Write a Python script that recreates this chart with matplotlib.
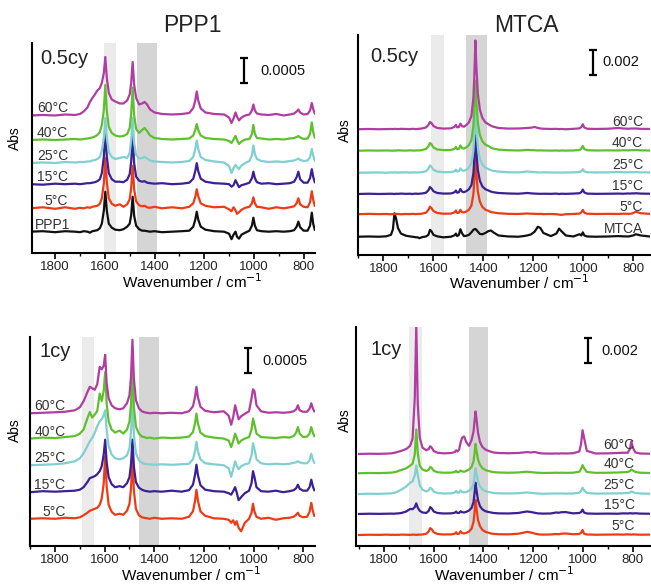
import numpy as np
import matplotlib
matplotlib.use('Agg')
import matplotlib.pyplot as plt
from matplotlib.ticker import MultipleLocator

plt.rcParams['font.family'] = ['Liberation Sans', 'DejaVu Sans']

# ---- data (absorbance in units of 1e-3, relative to each trace's baseline)
TEMPS = ['5°C', '15°C', '25°C', '40°C', '60°C']

WN_PPP1 = [1900, 1850, 1800, 1760, 1720, 1700, 1685, 1670, 1660, 1650,
           1640, 1630, 1620, 1612, 1604, 1598, 1592, 1584, 1572, 1558,
           1540, 1525, 1510, 1500, 1494, 1488, 1482, 1474, 1462, 1450,
           1440, 1430, 1418, 1400, 1370, 1330, 1290, 1260, 1244, 1236,
           1230, 1224, 1214, 1195, 1160, 1120, 1100, 1090, 1082, 1074,
           1068, 1060, 1050, 1035, 1018, 1008, 1002, 996, 988, 970,
           940, 910, 880, 855, 838, 828, 821, 814, 800, 784,
           774, 767, 761, 755]

# PPP1, 0.5 cycle
PPP1_REF = [0.00, 0.01, -0.01, 0.01, 0.00, -0.01, 0.01, 0.00, -0.02, 0.01,
            0.02, 0.03, 0.07, 0.16, 0.42, 0.80, 0.42, 0.16, 0.08, 0.04,
            0.03, 0.05, 0.10, 0.16, 0.33, 0.70, 0.32, 0.12, 0.05, 0.02,
            0.02, 0.01, 0.00, 0.01, -0.01, 0.00, 0.01, 0.02, 0.10, 0.24,
            0.40, 0.24, 0.10, 0.04, 0.01, 0.00, -0.04, -0.15, -0.06, 0.00,
            -0.10, -0.14, -0.06, -0.02, 0.02, 0.12, 0.28, 0.12, 0.03, 0.01,
            0.00, 0.01, 0.00, 0.01, 0.03, 0.10, 0.20, 0.09, 0.02, 0.02,
            0.12, 0.38, 0.15, 0.04]
PPP1_05_5C = [0.00, 0.02, -0.01, 0.02, -0.01, 0.01, 0.00, 0.02, 0.01, 0.03,
              0.04, 0.05, 0.09, 0.20, 0.50, 1.00, 0.52, 0.20, 0.09, 0.05,
              0.08, 0.03, 0.08, 0.18, 0.40, 0.85, 0.38, 0.14, 0.06, 0.04,
              0.05, 0.02, 0.01, 0.03, 0.00, 0.02, 0.00, 0.03, 0.10, 0.23,
              0.38, 0.24, 0.10, 0.05, 0.02, 0.03, -0.02, -0.06, 0.02, -0.04,
              -0.11, -0.08, -0.03, 0.01, 0.03, 0.10, 0.22, 0.10, 0.03, 0.02,
              -0.01, 0.02, 0.00, 0.02, 0.04, 0.10, 0.20, 0.08, 0.03, 0.02,
              0.12, 0.34, 0.16, 0.05]
PPP1_05_15C = [0.00, -0.01, 0.01, 0.00, 0.01, 0.00, 0.01, 0.02, 0.02, 0.03,
               0.04, 0.06, 0.10, 0.22, 0.55, 1.05, 0.55, 0.22, 0.10, 0.05,
               0.05, 0.04, 0.09, 0.20, 0.45, 0.95, 0.42, 0.15, 0.07, 0.05,
               0.06, 0.03, 0.02, 0.01, 0.02, 0.00, 0.01, 0.03, 0.11, 0.26,
               0.42, 0.26, 0.11, 0.05, 0.02, 0.01, 0.00, -0.05, -0.02, 0.08,
               0.02, -0.06, -0.02, 0.00, 0.03, 0.12, 0.25, 0.12, 0.04, 0.01,
               0.02, 0.00, 0.01, 0.02, 0.05, 0.14, 0.25, 0.10, 0.03, 0.03,
               0.12, 0.30, 0.14, 0.04]
PPP1_05_25C = [0.00, 0.01, 0.00, 0.02, 0.01, 0.02, 0.02, 0.03, 0.03, 0.05,
               0.06, 0.08, 0.12, 0.25, 0.50, 0.90, 0.50, 0.22, 0.12, 0.08,
               0.10, 0.12, 0.10, 0.20, 0.45, 0.90, 0.40, 0.16, 0.09, 0.10,
               0.12, 0.09, 0.05, 0.03, 0.02, 0.01, 0.02, 0.04, 0.12, 0.28,
               0.45, 0.28, 0.12, 0.06, 0.03, 0.01, -0.06, -0.20, -0.10, -0.04,
               -0.08, -0.12, -0.05, 0.00, 0.04, 0.15, 0.35, 0.18, 0.08, 0.04,
               0.02, 0.03, 0.02, 0.04, 0.05, 0.07, 0.09, 0.06, 0.04, 0.05,
               0.12, 0.28, 0.14, 0.05]
PPP1_05_40C = [0.00, 0.01, 0.00, 0.01, 0.02, 0.01, 0.02, 0.03, 0.04, 0.05,
               0.07, 0.10, 0.16, 0.30, 0.60, 1.10, 0.58, 0.26, 0.14, 0.09,
               0.07, 0.08, 0.12, 0.24, 0.52, 1.05, 0.50, 0.22, 0.14, 0.20,
               0.24, 0.18, 0.09, 0.04, 0.02, 0.01, 0.02, 0.03, 0.09, 0.20,
               0.32, 0.20, 0.09, 0.04, 0.02, 0.01, -0.02, -0.06, 0.01, 0.08,
               0.00, -0.08, -0.03, 0.01, 0.02, 0.12, 0.30, 0.12, 0.04, 0.03,
               0.01, 0.02, 0.01, 0.03, 0.04, 0.06, 0.08, 0.05, 0.02, 0.03,
               0.12, 0.35, 0.15, 0.05]
PPP1_05_60C = [0.00, 0.01, 0.00, 0.02, 0.01, 0.03, 0.08, 0.16, 0.27, 0.35,
               0.42, 0.50, 0.55, 0.65, 0.85, 1.17, 0.75, 0.45, 0.32, 0.28,
               0.24, 0.24, 0.30, 0.42, 0.65, 1.07, 0.62, 0.35, 0.22, 0.24,
               0.27, 0.22, 0.12, 0.06, 0.03, 0.02, 0.03, 0.05, 0.15, 0.30,
               0.48, 0.30, 0.14, 0.06, 0.03, 0.02, -0.04, -0.15, -0.06, 0.06,
               -0.02, -0.10, -0.04, 0.00, 0.02, 0.10, 0.22, 0.10, 0.04, 0.02,
               0.01, 0.03, 0.00, 0.02, 0.04, 0.08, 0.12, 0.06, 0.02, 0.03,
               0.10, 0.25, 0.12, 0.04]

# PPP1, 1 cycle
PPP1_1_5C = [0.00, 0.01, 0.00, 0.02, 0.01, 0.03, 0.07, 0.12, 0.16, 0.18,
             0.20, 0.22, 0.28, 0.40, 0.70, 1.25, 0.65, 0.28, 0.14, 0.08,
             0.10, 0.08, 0.16, 0.30, 0.60, 1.20, 0.55, 0.20, 0.07, 0.03,
             0.02, 0.01, 0.00, 0.02, 0.00, 0.01, 0.00, 0.04, 0.15, 0.35,
             0.58, 0.36, 0.15, 0.06, 0.01, 0.00, -0.02, -0.08, -0.03, -0.12,
             -0.05, -0.18, -0.25, -0.08, 0.00, 0.12, 0.30, 0.14, 0.04, 0.00,
             0.02, -0.02, 0.01, 0.02, 0.04, 0.08, 0.12, 0.06, 0.03, 0.04,
             0.14, 0.32, 0.16, 0.06]
PPP1_1_15C = [0.00, 0.02, 0.01, 0.02, 0.03, 0.05, 0.10, 0.20, 0.28, 0.30,
              0.32, 0.36, 0.42, 0.52, 0.75, 1.05, 0.60, 0.30, 0.16, 0.10,
              0.12, 0.10, 0.18, 0.30, 0.55, 1.05, 0.50, 0.20, 0.09, 0.05,
              0.03, 0.02, 0.01, 0.02, 0.01, 0.03, 0.01, 0.04, 0.15, 0.34,
              0.55, 0.34, 0.14, 0.05, 0.02, 0.01, -0.02, -0.05, 0.02, 0.10,
              0.00, -0.16, -0.10, -0.02, 0.03, 0.18, 0.42, 0.30, 0.10, 0.02,
              0.01, 0.03, 0.00, 0.02, 0.04, 0.08, 0.15, 0.07, 0.03, 0.03,
              0.10, 0.25, 0.12, 0.04]
PPP1_1_25C = [0.00, 0.01, 0.02, 0.04, 0.08, 0.14, 0.24, 0.38, 0.48, 0.55,
              0.65, 0.78, 0.88, 0.92, 1.00, 1.10, 0.70, 0.38, 0.22, 0.14,
              0.12, 0.14, 0.20, 0.34, 0.65, 1.30, 0.60, 0.24, 0.10, 0.05,
              0.03, 0.02, 0.02, 0.01, 0.02, 0.01, 0.02, 0.03, 0.12, 0.28,
              0.47, 0.28, 0.12, 0.04, 0.02, 0.00, -0.06, -0.23, -0.08, 0.08,
              0.00, -0.08, -0.02, 0.02, 0.04, 0.20, 0.44, 0.32, 0.12, 0.04,
              0.02, 0.03, 0.02, 0.03, 0.05, 0.06, 0.08, 0.06, 0.04, 0.04,
              0.10, 0.23, 0.12, 0.05]
PPP1_1_40C = [0.00, 0.02, 0.01, 0.03, 0.05, 0.10, 0.18, 0.40, 0.53, 0.42,
              0.48, 0.55, 0.90, 0.75, 0.95, 1.33, 0.70, 0.35, 0.18, 0.12,
              0.16, 0.10, 0.18, 0.34, 0.68, 1.35, 0.62, 0.24, 0.10, 0.04,
              0.03, 0.01, 0.02, 0.00, 0.02, 0.01, 0.02, 0.04, 0.13, 0.30,
              0.50, 0.30, 0.12, 0.05, 0.02, 0.00, -0.04, -0.17, -0.05, 0.10,
              0.02, -0.10, -0.04, 0.00, 0.03, 0.18, 0.40, 0.28, 0.10, 0.03,
              0.02, 0.01, 0.03, 0.02, 0.05, 0.12, 0.23, 0.10, 0.03, 0.04,
              0.10, 0.23, 0.12, 0.05]
PPP1_1_60C = [0.00, 0.01, 0.02, 0.03, 0.06, 0.12, 0.24, 0.42, 0.53, 0.50,
              0.47, 0.58, 0.93, 0.88, 0.95, 1.17, 0.60, 0.30, 0.16, 0.10,
              0.08, 0.10, 0.20, 0.36, 0.72, 1.47, 0.68, 0.26, 0.10, 0.04,
              0.02, 0.01, 0.00, 0.01, 0.00, 0.01, 0.00, 0.04, 0.14, 0.32,
              0.53, 0.32, 0.13, 0.05, 0.02, 0.04, -0.05, -0.23, -0.08, 0.16,
              0.04, -0.12, -0.06, -0.01, 0.04, 0.30, 0.48, 0.44, 0.16, 0.04,
              0.01, 0.02, 0.01, 0.02, 0.04, 0.08, 0.16, 0.06, 0.03, 0.03,
              0.09, 0.20, 0.10, 0.04]

WN_MTCA = [1900, 1860, 1820, 1790, 1770, 1762, 1756, 1750, 1742, 1730,
           1710, 1695, 1685, 1676, 1670, 1664, 1656, 1645, 1630, 1620,
           1614, 1608, 1600, 1585, 1560, 1530, 1515, 1510, 1505, 1498,
           1492, 1486, 1478, 1468, 1458, 1448, 1440, 1436, 1432, 1428,
           1422, 1414, 1404, 1392, 1380, 1370, 1360, 1340, 1300, 1260,
           1240, 1225, 1210, 1195, 1182, 1172, 1160, 1130, 1108, 1097,
           1088, 1070, 1040, 1015, 1008, 1002, 996, 985, 950, 900,
           860, 840, 820, 812, 806, 800, 790, 770, 735]

# MTCA, 0.5 cycle
MTCA_REF = [0.00, 0.02, 0.00, 0.03, 0.15, 0.60, 1.87, 1.50, 0.70, 0.25,
            0.08, 0.03, 0.00, -0.02, -0.05, -0.04, -0.12, -0.03, 0.02, 0.15,
            0.55, 0.45, 0.15, 0.03, -0.05, 0.00, 0.12, 0.25, 0.05, 0.15,
            0.60, 0.30, 0.05, 0.08, 0.15, 0.35, 0.55, 0.60, 0.62, 0.55,
            0.40, 0.22, 0.20, 0.30, 0.45, 0.50, 0.35, 0.10, 0.02, 0.00,
            0.05, 0.10, 0.18, 0.40, 0.80, 0.70, 0.30, 0.05, 0.25, 0.65,
            0.45, 0.10, 0.02, 0.20, 0.10, 0.35, 0.10, 0.02, 0.00, 0.02,
            0.05, 0.03, 0.02, 0.05, 0.08, 0.10, 0.20, 0.10, 0.02]
MTCA_05_5C = [0.00, 0.03, 0.01, 0.02, 0.00, 0.02, 0.01, 0.03, 0.02, 0.00,
              0.02, 0.01, 0.03, 0.02, 0.01, 0.03, 0.02, 0.05, 0.12, 0.35,
              0.60, 0.50, 0.25, 0.10, 0.04, 0.05, 0.15, 0.30, 0.10, 0.12,
              0.35, 0.18, 0.14, 0.22, 0.36, 0.68, 1.60, 2.80, 4.50, 3.20,
              1.80, 1.00, 0.58, 0.36, 0.27, 0.18, 0.14, 0.08, 0.03, 0.02,
              0.04, 0.06, 0.04, 0.03, 0.02, 0.03, 0.01, 0.02, 0.00, -0.03,
              -0.05, 0.00, 0.02, 0.05, 0.15, 0.35, 0.12, 0.04, 0.02, 0.03,
              0.02, 0.04, 0.03, 0.04, 0.06, 0.10, 0.20, 0.08, 0.03]
MTCA_05_15C = [0.00, 0.02, 0.00, 0.01, 0.02, 0.01, 0.00, 0.02, 0.01, 0.03,
               0.01, 0.02, 0.00, 0.02, 0.03, 0.01, 0.02, 0.04, 0.10, 0.30,
               0.55, 0.45, 0.22, 0.08, 0.03, 0.04, 0.14, 0.28, 0.10, 0.14,
               0.40, 0.20, 0.14, 0.23, 0.38, 0.70, 1.65, 2.90, 4.70, 3.30,
               1.90, 1.05, 0.60, 0.38, 0.28, 0.19, 0.14, 0.08, 0.04, 0.02,
               0.05, 0.08, 0.05, 0.03, 0.02, 0.01, 0.02, 0.01, 0.03, 0.00,
               0.02, 0.01, 0.03, 0.06, 0.15, 0.35, 0.12, 0.03, 0.01, 0.02,
               0.03, 0.02, 0.04, 0.03, 0.05, 0.04, 0.06, 0.03, 0.02]
MTCA_05_25C = [0.00, 0.01, 0.02, 0.00, 0.02, 0.01, 0.03, 0.02, 0.01, 0.02,
               0.03, 0.01, 0.02, 0.03, 0.02, 0.02, 0.03, 0.05, 0.12, 0.32,
               0.58, 0.48, 0.24, 0.09, 0.04, 0.05, 0.12, 0.25, 0.10, 0.12,
               0.35, 0.20, 0.15, 0.25, 0.40, 0.75, 1.75, 3.10, 5.00, 3.50,
               2.00, 1.10, 0.65, 0.40, 0.30, 0.20, 0.15, 0.09, 0.04, 0.03,
               0.06, 0.10, 0.07, 0.05, 0.03, 0.02, 0.03, 0.02, 0.01, 0.02,
               0.01, 0.02, 0.03, 0.06, 0.12, 0.28, 0.10, 0.04, 0.02, 0.03,
               0.06, 0.04, 0.03, 0.04, 0.05, 0.04, 0.05, 0.03, 0.02]
MTCA_05_40C = [0.00, 0.02, 0.01, 0.02, 0.01, 0.00, 0.02, 0.01, 0.03, 0.02,
               0.01, 0.03, 0.02, 0.01, 0.02, 0.03, 0.02, 0.06, 0.14, 0.36,
               0.62, 0.52, 0.26, 0.10, 0.05, 0.06, 0.16, 0.30, 0.12, 0.14,
               0.42, 0.22, 0.17, 0.28, 0.45, 0.85, 2.00, 3.50, 5.60, 3.90,
               2.20, 1.25, 0.75, 0.48, 0.38, 0.25, 0.17, 0.09, 0.04, 0.02,
               0.04, 0.07, 0.05, 0.04, 0.02, 0.03, 0.02, 0.01, 0.02, 0.00,
               0.02, 0.01, 0.02, 0.06, 0.16, 0.38, 0.14, 0.04, 0.02, 0.03,
               0.02, 0.04, 0.03, 0.04, 0.05, 0.04, 0.06, 0.03, 0.02]
MTCA_05_60C = [0.00, 0.02, 0.00, 0.01, 0.02, 0.01, 0.03, 0.02, 0.01, 0.03,
               0.02, 0.01, 0.03, 0.02, 0.01, 0.02, 0.04, 0.06, 0.14, 0.34,
               0.58, 0.50, 0.26, 0.10, 0.05, 0.07, 0.20, 0.35, 0.15, 0.18,
               0.45, 0.25, 0.20, 0.34, 0.55, 1.05, 2.50, 4.40, 7.10, 5.00,
               2.80, 1.55, 0.90, 0.55, 0.40, 0.28, 0.20, 0.10, 0.05, 0.06,
               0.08, 0.10, 0.12, 0.18, 0.10, 0.06, 0.04, 0.02, 0.03, 0.01,
               0.02, 0.00, 0.03, 0.07, 0.18, 0.40, 0.14, 0.04, 0.02, 0.04,
               0.10, 0.06, 0.04, 0.05, 0.06, 0.05, 0.06, 0.03, 0.02]

# MTCA, 1 cycle
MTCA_1_5C = [0.00, 0.02, 0.01, 0.03, 0.01, 0.02, 0.00, 0.02, 0.01, 0.03,
             0.02, 0.01, 0.03, 0.02, 0.01, 0.02, 0.03, 0.04, 0.10, 0.28,
             0.55, 0.46, 0.22, 0.08, 0.04, 0.05, 0.10, 0.22, 0.08, 0.10,
             0.30, 0.16, 0.12, 0.18, 0.28, 0.50, 1.05, 1.80, 2.80, 2.10,
             1.20, 0.70, 0.40, 0.25, 0.18, 0.12, 0.09, 0.06, 0.05, 0.10,
             0.18, 0.25, 0.20, 0.12, 0.06, 0.04, 0.03, 0.04, 0.08, 0.06,
             0.10, 0.12, 0.06, 0.08, 0.18, 0.40, 0.10, 0.04, 0.02, 0.03,
             0.04, 0.03, 0.05, 0.04, 0.03, 0.05, 0.04, 0.02, 0.03]
MTCA_1_15C = [0.00, 0.02, 0.01, 0.02, 0.03, 0.02, 0.03, 0.04, 0.05, 0.08,
              0.20, 0.40, 0.38, 0.55, 0.85, 0.50, 0.25, 0.12, 0.08, 0.25,
              0.55, 0.45, 0.20, 0.08, 0.04, 0.05, 0.10, 0.20, 0.08, 0.08,
              0.22, 0.14, 0.12, 0.18, 0.28, 0.48, 0.95, 1.65, 2.50, 1.90,
              1.10, 0.62, 0.36, 0.22, 0.16, 0.12, 0.08, 0.05, 0.04, 0.08,
              0.15, 0.20, 0.16, 0.10, 0.05, 0.04, 0.03, 0.04, 0.12, 0.10,
              0.14, 0.15, 0.05, 0.08, 0.16, 0.35, 0.12, 0.04, 0.02, 0.03,
              0.02, 0.05, 0.04, 0.06, 0.05, 0.04, 0.06, 0.03, 0.02]
MTCA_1_25C = [0.00, 0.02, 0.01, 0.03, 0.05, 0.08, 0.10, 0.15, 0.22, 0.35,
              0.60, 0.90, 1.00, 1.50, 2.27, 1.50, 0.70, 0.35, 0.20, 0.30,
              0.50, 0.42, 0.20, 0.08, 0.04, 0.05, 0.12, 0.25, 0.10, 0.12,
              0.28, 0.16, 0.12, 0.17, 0.26, 0.42, 0.80, 1.35, 2.05, 1.60,
              1.00, 0.60, 0.36, 0.22, 0.16, 0.12, 0.08, 0.05, 0.04, 0.06,
              0.10, 0.12, 0.09, 0.06, 0.04, 0.03, 0.02, 0.03, 0.04, 0.03,
              0.04, 0.03, 0.04, 0.10, 0.25, 0.50, 0.30, 0.08, 0.03, 0.04,
              0.05, 0.06, 0.08, 0.12, 0.20, 0.15, 0.08, 0.04, 0.02]
MTCA_1_40C = [0.00, 0.02, 0.01, 0.03, 0.05, 0.07, 0.09, 0.12, 0.18, 0.26,
              0.40, 0.60, 0.75, 1.50, 3.50, 1.60, 0.60, 0.30, 0.18, 0.28,
              0.50, 0.42, 0.20, 0.08, 0.04, 0.05, 0.10, 0.20, 0.08, 0.10,
              0.22, 0.14, 0.12, 0.19, 0.30, 0.50, 0.95, 1.55, 2.35, 1.80,
              1.10, 0.66, 0.40, 0.25, 0.18, 0.13, 0.09, 0.06, 0.04, 0.06,
              0.10, 0.12, 0.09, 0.06, 0.04, 0.03, 0.02, 0.03, 0.04, 0.03,
              0.04, 0.03, 0.04, 0.12, 0.35, 0.65, 0.40, 0.10, 0.03, 0.04,
              0.06, 0.08, 0.10, 0.18, 0.30, 0.22, 0.10, 0.04, 0.02]
MTCA_1_60C = [0.00, 0.02, 0.01, 0.03, 0.05, 0.08, 0.10, 0.14, 0.18, 0.25,
              0.40, 0.65, 1.20, 4.50, 10.30, 4.00, 1.30, 0.50, 0.30, 0.40,
              0.62, 0.50, 0.24, 0.10, 0.05, 0.08, 0.15, 0.30, 0.20, 0.35,
              0.90, 1.30, 1.40, 0.90, 0.65, 1.10, 1.80, 2.60, 3.40, 2.80,
              1.70, 0.95, 0.55, 0.35, 0.25, 0.18, 0.12, 0.08, 0.06, 0.08,
              0.12, 0.15, 0.12, 0.16, 0.10, 0.06, 0.04, 0.03, 0.04, 0.03,
              0.05, 0.04, 0.06, 0.20, 0.80, 1.90, 1.30, 0.25, 0.04, 0.05,
              0.08, 0.10, 0.10, 0.40, 1.00, 0.50, 0.12, 0.04, 0.02]

COLORS = {'ref': '#111111', '5°C': '#ee3b16', '15°C': '#3b2096',
          '25°C': '#80d0d0', '40°C': '#5fc02e', '60°C': '#b13ca2'}


def draw_panel(ax, wn, ref, ref_name, series, offsets, xlim, ylim, bands,
               cycle, cyc_pos, lab_x, lab_dy, ref_lab_x, ref_ha, bar, bar_txt,
               abs_pos, xlab_pos):
    names = ([ref_name] if ref is not None else []) + TEMPS
    data = ([ref] if ref is not None else []) + series
    # shaded bands
    (l0, l1), (d0, d1) = bands
    ax.axvspan(l1, l0, color='#ebebeb', lw=0, zorder=0)
    ax.axvspan(d1, d0, color='#d5d5d5', lw=0, zorder=0)
    for name, y, off in zip(names, data, offsets):
        key = 'ref' if name == ref_name else name
        ax.plot(wn, np.array(y) + off, color=COLORS[key], lw=1.6,
                solid_joinstyle='round')
        if name == ref_name:
            ax.text(ref_lab_x, off + lab_dy, name, ha=ref_ha, va='baseline',
                    fontsize=10, color='#333333')
        else:
            ax.text(lab_x, off + lab_dy, name, ha='right', va='baseline',
                    fontsize=10, color='#333333')
    ax.set_xlim(*xlim)
    ax.set_ylim(*ylim)
    for s in ('top', 'right'):
        ax.spines[s].set_visible(False)
    ax.spines['left'].set_linewidth(1.5)
    ax.spines['bottom'].set_linewidth(1.5)
    ax.set_yticks([])
    ax.xaxis.set_major_locator(MultipleLocator(200))
    ax.xaxis.set_minor_locator(MultipleLocator(100))
    ax.tick_params(axis='x', which='major', length=4, width=1.2, pad=1.5,
                   labelsize=9.5, labelcolor='#222222')
    ax.tick_params(axis='x', which='minor', length=2.5, width=1.0)
    ax.patch.set_alpha(0)
    # cycle label
    ax.text(cyc_pos[0], cyc_pos[1], cycle, transform=ax.transAxes,
            fontsize=14.5, va='baseline', ha='left', color='#222222')
    # scale bar
    bx, by, bh = bar
    ax.errorbar(bx, by, yerr=bh / 2, fmt='none', ecolor='black', elinewidth=1.6,
                capsize=3.2, capthick=1.6)
    ax.text(bar_txt[0], by, bar_txt[1], ha='left', va='center', fontsize=10.5,
            color='#111111')
    ax.text(abs_pos[0], abs_pos[1], 'Abs', transform=ax.transAxes, rotation=90,
            ha='center', va='center', fontsize=10)
    ax.text(xlab_pos[0], xlab_pos[1], 'Wavenumber / cm$^{-1}$',
            transform=ax.transAxes, ha='center', va='center', fontsize=11)


fig = plt.figure(figsize=(6.51, 5.84), dpi=100)

ax1 = fig.add_axes([0.0492, 0.5668, 0.4347, 0.3596])
draw_panel(ax1, WN_PPP1, PPP1_REF, 'PPP1',
           [PPP1_05_5C, PPP1_05_15C, PPP1_05_25C, PPP1_05_40C, PPP1_05_60C],
           [0.426, 0.894, 1.376, 1.80, 2.26, 2.75], (1893, 754), (0, 4.2),
           [(1605, 1555), (1471, 1391)], '0.5cy', (0.028, 0.90),
           1748, 0.06, 1810, 'center', (1039, 3.64, 0.5), (975, '0.0005'),
           (-0.06, 0.548), (0.567, -0.138))

ax2 = fig.add_axes([0.5495, 0.5634, 0.449, 0.3767])
draw_panel(ax2, WN_MTCA, MTCA_REF, 'MTCA',
           [MTCA_05_5C, MTCA_05_15C, MTCA_05_25C, MTCA_05_40C, MTCA_05_60C],
           [1.46, 3.26, 4.88, 6.58, 8.34, 10.06], (1903, 733), (0, 17.6),
           [(1610, 1557), (1469, 1386)], '0.5cy', (0.042, 0.879),
           761, 0.28, 761, 'right', (961, 15.4, 2.0), (922, '0.002'),
           (-0.043, 0.568), (0.552, -0.127))

ax3 = fig.add_axes([0.0461, 0.0651, 0.4378, 0.3579])
draw_panel(ax3, WN_PPP1, None, None,
           [PPP1_1_5C, PPP1_1_15C, PPP1_1_25C, PPP1_1_40C, PPP1_1_60C],
           [0.544, 1.076, 1.614, 2.148, 2.654], (1901, 752), (0, 4.18),
           [(1690, 1642), (1462, 1379)], '1cy', (0.035, 0.906),
           1758, 0.06, 1758, 'right', (1022, 3.70, 0.5), (965, '0.0005'),
           (-0.053, 0.555), (0.567, -0.136))

ax4 = fig.add_axes([0.5469, 0.0651, 0.4516, 0.375])
draw_panel(ax4, WN_MTCA, None, None,
           [MTCA_1_5C, MTCA_1_15C, MTCA_1_25C, MTCA_1_40C, MTCA_1_60C],
           [0.88, 2.56, 4.16, 5.82, 7.36], (1912, 731), (0, 17.52),
           [(1700, 1646), (1460, 1380)], '1cy', (0.048, 0.872),
           793, 0.4, 793, 'right', (982, 15.6, 2.0), (926, '0.002'),
           (-0.037, 0.575), (0.503, -0.130))

fig.text(192 / 651, 1 - 25 / 584, 'PPP1', ha='center', va='center', fontsize=16.5,
         color='#222222')
fig.text(526 / 651, 1 - 25 / 584, 'MTCA', ha='center', va='center', fontsize=16.5,
         color='#222222')

fig.savefig('out.png', dpi=100)
